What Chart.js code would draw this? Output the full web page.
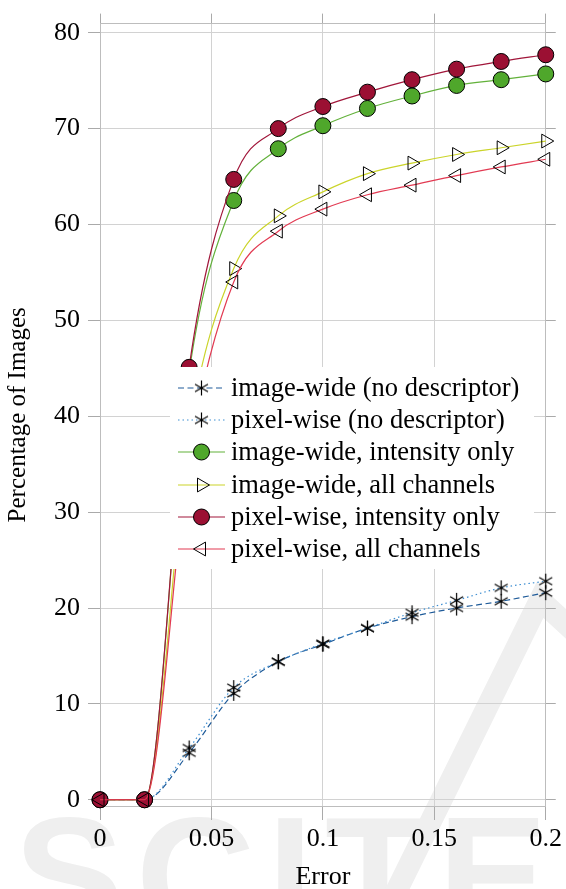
<!DOCTYPE html>
<html>
<head>
<meta charset="utf-8">
<script src="https://cdn.jsdelivr.net/npm/chart.js@4.4.1/dist/chart.umd.min.js"></script>
<style>
  html, body { margin: 0; padding: 0; background: #fff; }
  #wrap { width: 566px; height: 889px; }
</style>
</head>
<body>
<div id="wrap"><canvas id="errChart" width="566" height="889"></canvas></div>
<script>
// values
const errors = [0, 0.02, 0.04, 0.06, 0.08, 0.1, 0.12, 0.14, 0.16, 0.18, 0.2];
const imageWideNoDesc = [0, 0, 4.9, 11.1, 14.4, 16.2, 17.9, 19.1, 20.0, 20.7, 21.6];
const pixelWiseNoDesc = [0, 0, 5.4, 11.7, 14.4, 16.3, 17.9, 19.5, 20.8, 22.1, 22.8];
const imageWideIntensity = [0, 0, 44.6, 62.5, 67.9, 70.3, 72.1, 73.4, 74.5, 75.1, 75.7];
const imageWideAll = [0, 0, 38.5, 55.4, 60.9, 63.4, 65.3, 66.4, 67.3, 68.0, 68.7];
const pixelWiseIntensity = [0, 0, 45.1, 64.7, 70.0, 72.3, 73.8, 75.1, 76.2, 77.0, 77.7];
const pixelWiseAll = [0, 0, 36.0, 54.0, 59.3, 61.6, 63.1, 64.1, 65.1, 66.0, 66.8];

const xTicks = [0, 0.05, 0.1, 0.15, 0.2];
const yTicks = [0, 10, 20, 30, 40, 50, 60, 70, 80];

const FONT = 'Liberation Serif';

// pgfplots style asterisk (3 strokes)
function makeAsterisk(r) {
    var c = document.createElement('canvas');
    c.width = c.height = Math.ceil(r * 2 + 4);
    var g = c.getContext('2d');
    g.translate(c.width / 2, c.height / 2);
    g.strokeStyle = '#000';
    g.lineWidth = 1.2;
    g.beginPath();
    [90, 30, -30].forEach(function (a) {
        var t = a * Math.PI / 180;
        g.moveTo(Math.cos(t) * r, -Math.sin(t) * r);
        g.lineTo(-Math.cos(t) * r, Math.sin(t) * r);
    });
    g.stroke();
    return c;
}
const asterisk = makeAsterisk(7.5);

function pts(vals) {
    return errors.map(function (e, i) { return {x: e, y: vals[i]}; });
}

const series = [
    {label: 'image-wide (no descriptor)', data: imageWideNoDesc, line: '#1f5b99', dash: [6, 3.5],
        style: asterisk, fill: '#000', radius: 7.5, rot: 0, order: 6},
    {label: 'pixel-wise (no descriptor)', data: pixelWiseNoDesc, line: '#3f8fd2', dash: [1.5, 3],
        style: asterisk, fill: '#000', radius: 7.5, rot: 0, order: 5},
    {label: 'image-wide, intensity only', data: imageWideIntensity, line: '#62b13a', dash: [],
        style: 'circle', fill: '#4fa72b', radius: 8, rot: 0, order: 4},
    {label: 'image-wide, all channels', data: imageWideAll, line: '#cbd42a', dash: [],
        style: 'triangle', fill: 'rgba(0,0,0,0)', radius: 8, rot: 90, order: 3},
    {label: 'pixel-wise, intensity only', data: pixelWiseIntensity, line: '#a1163a', dash: [],
        style: 'circle', fill: '#9b1033', radius: 8, rot: 0, order: 2},
    {label: 'pixel-wise, all channels', data: pixelWiseAll, line: '#e23a52', dash: [],
        style: 'triangle', fill: 'rgba(0,0,0,0)', radius: 8, rot: -90, order: 1}
];

function drawMark(ctx, s, x, y) {
    ctx.save();
    ctx.translate(x, y);
    if (s.style === 'circle') {
        ctx.beginPath();
        ctx.arc(0, 0, s.radius, 0, Math.PI * 2);
        ctx.fillStyle = s.fill;
        ctx.fill();
        ctx.strokeStyle = '#000';
        ctx.lineWidth = 1;
        ctx.stroke();
    } else if (s.style === 'triangle') {
        var t = s.rot * Math.PI / 180;
        ctx.beginPath();
        for (var k = 0; k < 3; k++) {
            var a = t + k * 2 * Math.PI / 3;
            var px = Math.sin(a) * s.radius, py = -Math.cos(a) * s.radius;
            if (k === 0) ctx.moveTo(px, py); else ctx.lineTo(px, py);
        }
        ctx.closePath();
        ctx.strokeStyle = '#000';
        ctx.lineWidth = 1;
        ctx.stroke();
    } else {
        ctx.drawImage(s.style, -s.style.width / 2, -s.style.height / 2);
    }
    ctx.restore();
}

// faint publisher watermark behind the plot
const watermark = {
    id: 'watermark',
    beforeDraw: function (chart) {
        var ctx = chart.ctx;
        ctx.save();
        ctx.fillStyle = '#efefef';
        ctx.font = 'bold 165px "Liberation Sans"';
        ctx.textBaseline = 'alphabetic';
        ctx.textAlign = 'left';
        ctx.letterSpacing = '12px';
        ctx.fillText('SCITE', 14, 932);
        ctx.strokeStyle = '#efefef';
        ctx.lineWidth = 22;
        ctx.lineJoin = 'miter';
        ctx.beginPath();
        ctx.moveTo(392, 900);
        ctx.lineTo(540, 600);
        ctx.lineTo(600, 655);
        ctx.stroke();
        ctx.restore();
    }
};

// legend box sitting inside the plot
const boxLegend = {
    id: 'boxLegend',
    afterDraw: function (chart) {
        var ctx = chart.ctx;
        ctx.save();
        ctx.fillStyle = '#fff';
        ctx.fillRect(170, 367, 364, 202);
        var rowY = [388, 420, 452, 485, 517, 549];
        series.forEach(function (s, i) {
            var y = rowY[i];
            ctx.beginPath();
            ctx.setLineDash(s.dash);
            ctx.strokeStyle = s.line;
            ctx.lineWidth = 1.2;
            ctx.moveTo(178, y);
            ctx.lineTo(225, y);
            ctx.stroke();
            ctx.setLineDash([]);
            drawMark(ctx, s, 201.5, y);
            ctx.fillStyle = '#000';
            ctx.font = '26.5px "' + FONT + '"';
            ctx.textBaseline = 'middle';
            ctx.textAlign = 'left';
            ctx.fillText(s.label, 231, y + 1);
        });
        ctx.restore();
    }
};

var ctx = document.getElementById('errChart');

var datasets = series.map(function (s) {
    return {
        label: s.label,
        data: pts(s.data),
        borderColor: s.line,
        borderWidth: 1.2,
        borderDash: s.dash,
        cubicInterpolationMode: 'monotone',
        pointStyle: s.style,
        pointRadius: s.radius,
        pointRotation: s.rot,
        pointBackgroundColor: s.fill,
        pointBorderColor: '#000',
        pointBorderWidth: 1,
        order: s.order,
        clip: false
    };
});

var gridColor = '#d2d2d2';

var config = {
    type: 'line',
    data: {datasets: datasets},
    plugins: [watermark, boxLegend],
    options: {
        responsive: false,
        animation: false,
        devicePixelRatio: 1,
        layout: {padding: {top: 12, right: 8, left: 0, bottom: 0}},
        plugins: {legend: {display: false}, tooltip: {enabled: false}},
        scales: {
            x: {
                type: 'linear', min: 0, max: 0.2,
                afterBuildTicks: function (s) { s.ticks = xTicks.map(function (v) { return {value: v}; }); },
                afterFit: function (s) { s.height = 83; },
                grid: {color: gridColor, tickLength: 14, tickColor: '#aaa'},
                border: {color: '#bdbdbd'},
                ticks: {
                    font: {family: FONT, size: 26}, color: '#000', padding: 4, maxRotation: 0,
                    callback: function (v) { return String(+v.toFixed(2)); }
                },
                title: {display: true, text: 'Error', font: {family: FONT, size: 26}, color: '#000',
                    padding: {top: 0, bottom: -4}}
            },
            xTop: {
                type: 'linear', position: 'top', min: 0, max: 0.2,
                afterBuildTicks: function (s) { s.ticks = xTicks.map(function (v) { return {value: v}; }); },
                grid: {drawOnChartArea: false, tickLength: 10, tickColor: '#aaa'},
                border: {color: '#bdbdbd'},
                ticks: {display: false}
            },
            y: {
                type: 'linear', min: -0.65, max: 80.95,
                afterBuildTicks: function (s) { s.ticks = yTicks.map(function (v) { return {value: v}; }); },
                afterFit: function (s) { s.width = 100; },
                grid: {color: gridColor, tickLength: 12, tickColor: '#aaa'},
                border: {color: '#bdbdbd'},
                ticks: {font: {family: FONT, size: 26}, color: '#000', padding: 8},
                title: {display: true, text: 'Percentage of Images', font: {family: FONT, size: 25}, color: '#000',
                    padding: {top: 3, bottom: 0}}
            },
            yRight: {
                type: 'linear', position: 'right', min: -0.65, max: 80.95,
                afterBuildTicks: function (s) { s.ticks = yTicks.map(function (v) { return {value: v}; }); },
                grid: {drawOnChartArea: false, tickLength: 10, tickColor: '#aaa'},
                border: {color: '#bdbdbd'},
                ticks: {display: false}
            }
        }
    }
};

var errChart = new Chart(ctx, config);
</script>
</body>
</html>
